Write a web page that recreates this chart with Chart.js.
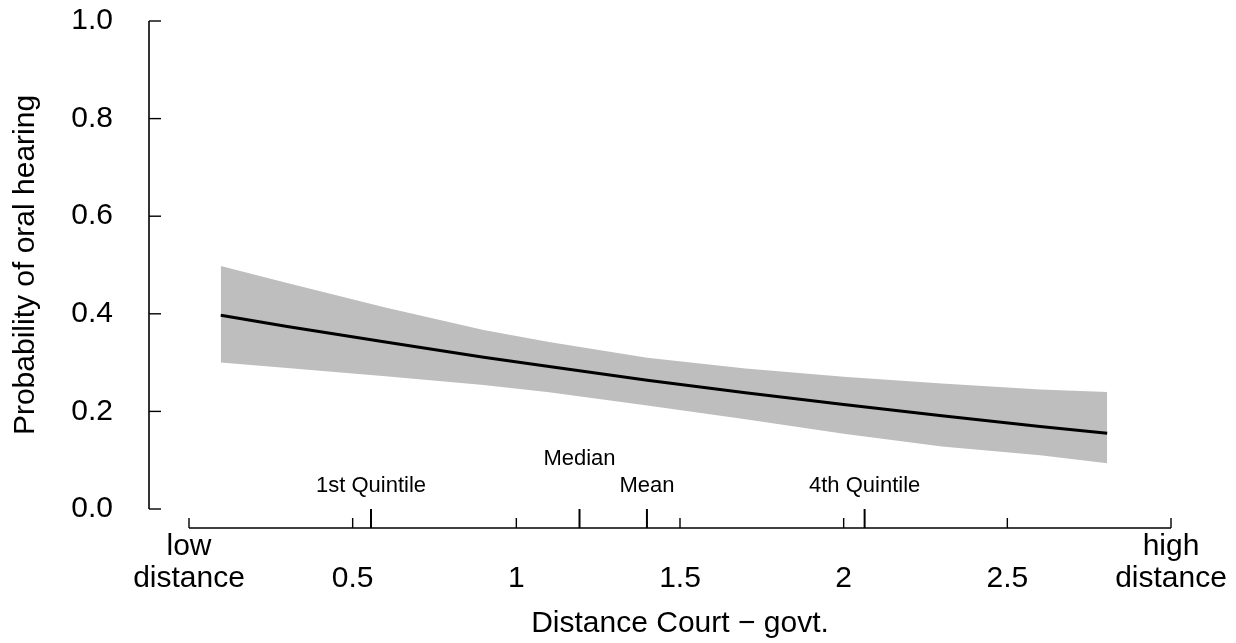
<!DOCTYPE html>
<html>
<head>
<meta charset="utf-8">
<title>Probability of oral hearing</title>
<script src="https://cdn.jsdelivr.net/npm/chart.js@4.4.0/dist/chart.umd.min.js"></script>
<style>
  body { margin: 0; background: #fff; }
</style>
</head>
<body>
<canvas id="chart" width="1236" height="643"></canvas>
<script>
// values
const xValues     = [0.097, 0.3,   0.6,   0.9,   1.1,   1.4,   1.7,   2.0,   2.3,   2.6,   2.805];
const fitValues   = [0.397, 0.374, 0.342, 0.311, 0.292, 0.264, 0.238, 0.214, 0.191, 0.169, 0.155];
const upperValues = [0.498, 0.463, 0.413, 0.367, 0.342, 0.310, 0.288, 0.271, 0.257, 0.245, 0.240];
const lowerValues = [0.300, 0.289, 0.272, 0.254, 0.239, 0.212, 0.184, 0.154, 0.128, 0.110, 0.094];

const xTickValues = [0, 0.5, 1, 1.5, 2, 2.5, 3];
const xTickLabels = [['low', 'distance'], ['', '0.5'], ['', '1'], ['', '1.5'], ['', '2'], ['', '2.5'], ['high', 'distance']];
const yTickValues = [0, 0.2, 0.4, 0.6, 0.8, 1];
const yTickLabels = ['0.0', '0.2', '0.4', '0.6', '0.8', '1.0'];

const markerNames  = ['1st Quintile', 'Median', 'Mean', '4th Quintile'];
const markerValues = [0.556, 1.193, 1.399, 2.064];
const markerRows   = [0, 1, 0, 0];

const FONT = "'Liberation Sans', Arial, Helvetica, sans-serif";
Chart.defaults.font.family = FONT;
Chart.defaults.color = '#000';

function pts(ys) {
  return xValues.map((x, i) => ({ x: x, y: ys[i] }));
}

// R style detached axes, drawn from the chart scales
const rAxes = {
  id: 'rAxes',
  afterDraw(chart) {
    const ctx = chart.ctx;
    const area = chart.chartArea;
    const xs = chart.scales.x, ys = chart.scales.y;
    const axY = area.bottom + 19;
    const axX = area.left - 40;
    ctx.save();
    ctx.strokeStyle = '#000';
    ctx.lineCap = 'butt';

    // x axis
    ctx.lineWidth = 1.6;
    ctx.beginPath();
    ctx.moveTo(xs.getPixelForValue(xTickValues[0]), axY);
    ctx.lineTo(xs.getPixelForValue(xTickValues[xTickValues.length - 1]), axY);
    ctx.stroke();
    ctx.lineWidth = 1.4;
    xTickValues.forEach(v => {
      const px = xs.getPixelForValue(v);
      ctx.beginPath();
      ctx.moveTo(px, axY);
      ctx.lineTo(px, axY - 10);
      ctx.stroke();
    });

    // y axis
    ctx.lineWidth = 1.6;
    ctx.beginPath();
    ctx.moveTo(axX, ys.getPixelForValue(yTickValues[0]));
    ctx.lineTo(axX, ys.getPixelForValue(yTickValues[yTickValues.length - 1]));
    ctx.stroke();
    ctx.lineWidth = 1.4;
    yTickValues.forEach(v => {
      const py = ys.getPixelForValue(v);
      ctx.beginPath();
      ctx.moveTo(axX, py);
      ctx.lineTo(axX + 12, py);
      ctx.stroke();
    });

    // quintile / median / mean markers
    ctx.lineWidth = 2;
    ctx.fillStyle = '#000';
    ctx.font = '22px ' + FONT;
    ctx.textAlign = 'center';
    ctx.textBaseline = 'alphabetic';
    markerValues.forEach((v, i) => {
      const px = xs.getPixelForValue(v);
      ctx.beginPath();
      ctx.moveTo(px, axY);
      ctx.lineTo(px, axY - 19);
      ctx.stroke();
      ctx.fillText(markerNames[i], px, axY - 36 - markerRows[i] * 27);
    });
    ctx.restore();
  }
};

const ctx = document.getElementById('chart').getContext('2d');
const myChart = new Chart(ctx, {
  type: 'line',
  data: {
    datasets: [{
      label: 'fit',
      data: pts(fitValues),
      borderColor: '#000',
      borderWidth: 3,
      borderJoinStyle: 'round',
      pointRadius: 0,
      fill: false,
      order: 0
    }, {
      label: 'upper',
      data: pts(upperValues),
      borderColor: 'rgba(0,0,0,0)',
      borderWidth: 0,
      backgroundColor: '#BEBEBE',
      pointRadius: 0,
      fill: '+1',
      order: 1
    }, {
      label: 'lower',
      data: pts(lowerValues),
      borderColor: 'rgba(0,0,0,0)',
      borderWidth: 0,
      pointRadius: 0,
      fill: false,
      order: 2
    }]
  },
  options: {
    responsive: false,
    animation: false,
    layout: { padding: { top: 21, right: 65, bottom: 0, left: 0 } },
    plugins: {
      legend: { display: false },
      tooltip: { enabled: false }
    },
    scales: {
      x: {
        type: 'linear',
        min: 0,
        max: 3,
        // tickLength is used only as label offset, marks are drawn by rAxes
        grid: { display: false, drawTicks: true, tickLength: 22 },
        border: { display: false },
        afterBuildTicks: s => { s.ticks = xTickValues.map(v => ({ value: v })); },
        afterFit: s => { s.height = 134; },
        ticks: {
          autoSkip: false,
          maxRotation: 0,
          padding: 0,
          font: { size: 30, lineHeight: 1.07 },
          callback: (v, i) => xTickLabels[i]
        },
        title: {
          display: true,
          text: 'Distance Court \u2212 govt.',
          font: { size: 30 },
          padding: { top: 0, bottom: 1 }
        }
      },
      y: {
        min: 0,
        max: 1,
        grid: { display: false, drawTicks: true, tickLength: 76 },
        border: { display: false },
        afterBuildTicks: s => { s.ticks = yTickValues.map(v => ({ value: v })); },
        afterFit: s => { s.width = 189; },
        ticks: {
          padding: 0,
          font: { size: 30 },
          callback: (v, i) => yTickLabels[i]
        },
        title: {
          display: true,
          text: 'Probability of oral hearing',
          font: { size: 30 },
          padding: { top: 8, bottom: 0 }
        }
      }
    }
  },
  plugins: [rAxes]
});
</script>
</body>
</html>
